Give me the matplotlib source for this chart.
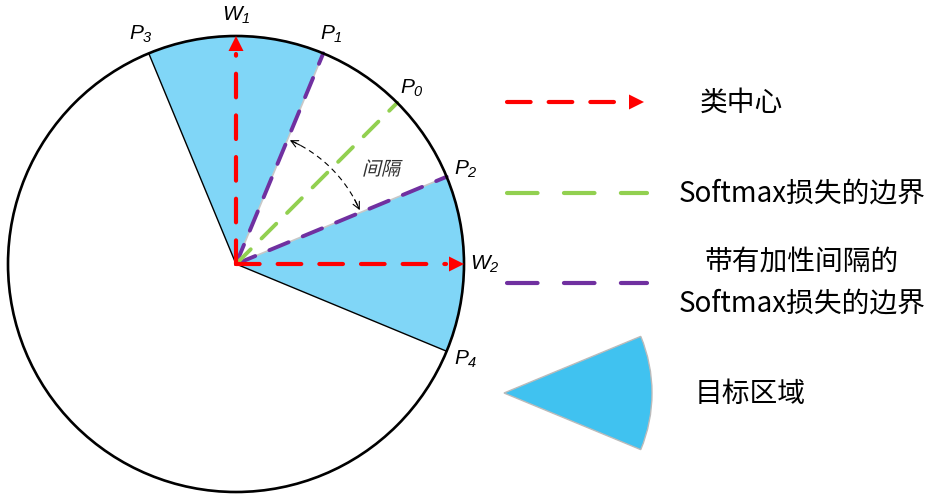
import numpy as np
import matplotlib
matplotlib.use('Agg')
import matplotlib.pyplot as plt
from matplotlib.patches import Wedge, Circle, Polygon, PathPatch
from matplotlib.textpath import TextPath
from matplotlib.font_manager import FontProperties
from matplotlib.transforms import Affine2D

plt.rcParams['font.family'] = ['Noto Sans CJK SC', 'DejaVu Sans']
plt.rcParams['mathtext.fontset'] = 'custom'
plt.rcParams['mathtext.it'] = 'Liberation Sans:italic'
plt.rcParams['mathtext.rm'] = 'Liberation Sans:italic'
plt.rcParams['lines.scale_dashes'] = False

# ---------------- data ----------------
class_center_angles = [90, 0]
class_center_labels = ['$W_1$', '$W_2$']
softmax_boundary_angle = 45
softmax_boundary_label = '$P_0$'
margin_boundary_angles = [67.5, 22.5]
margin_boundary_labels = ['$P_1$', '$P_2$']
target_regions = [(67.5, 112.5), (-22.5, 22.5)]
outer_boundary_angles = [112.5, -22.5]
outer_boundary_labels = ['$P_3$', '$P_4$']
margin_label = '间隔'
legend_labels = ['类中心', 'Softmax损失的边界', '带有加性间隔的\nSoftmax损失的边界', '目标区域']

# ---------------- style ----------------
W, H = 927, 495
RED = '#FF0000'
GREEN = '#92D050'
PURPLE = '#7030A0'
FILL = '#80D6F7'
LEG_FILL = '#40C2F0'

fig = plt.figure(figsize=(W / 100, H / 100), dpi=100)
ax = fig.add_axes([0, 0, 1, 1])
ax.set_xlim(0, W)
ax.set_ylim(0, H)
ax.set_aspect('equal')
ax.axis('off')

def img(x, y):
    return x, H - y

cx, cy = img(236, 264)
R = 228

def pol(ang, r):
    a = np.deg2rad(ang)
    return cx + r * np.cos(a), cy + r * np.sin(a)

# target regions
for t1, t2 in target_regions:
    ax.add_patch(Wedge((cx, cy), R, t1, t2, facecolor=FILL, edgecolor='none', zorder=1))

# circle outline
ax.add_patch(Circle((cx, cy), R, facecolor='none', edgecolor='black', lw=1.9, zorder=5))

# outer boundaries (thin black)
for ang in outer_boundary_angles:
    x, y = pol(ang, R)
    ax.plot([cx, x], [cy, y], color='black', lw=1.0, zorder=2)

main_dash = (0, (15, 11))

# margin boundaries (purple dashed on light gray)
for ang in margin_boundary_angles:
    x, y = pol(ang, R)
    ax.plot([cx, x], [cy, y], color='#C8C8C8', lw=1.2, zorder=2)
    ax.plot([cx, x], [cy, y], color=PURPLE, lw=2.8, linestyle=main_dash,
            dash_capstyle='round', zorder=3)

# softmax boundary (green dashed)
x, y = pol(softmax_boundary_angle, R)
ax.plot([cx, x], [cy, y], color=GREEN, lw=2.8, linestyle=main_dash,
        dash_capstyle='round', zorder=3)

# class centers (red dashed arrows)
def red_arrow(p0, ang, length, zorder=6):
    a = np.deg2rad(ang)
    d = np.array([np.cos(a), np.sin(a)])
    n = np.array([-d[1], d[0]])
    p0 = np.array(p0)
    tip = p0 + d * length
    base = tip - d * 15
    ax.plot([p0[0], base[0] - d[0] * 3], [p0[1], base[1] - d[1] * 3], color=RED, lw=3.0,
            linestyle=(0, (17, 13)), dash_capstyle='round', zorder=zorder)
    ax.add_patch(Polygon([tip, base + n * 7.5, base - n * 7.5], closed=True,
                         facecolor=RED, edgecolor='none', zorder=zorder))

for ang in class_center_angles:
    red_arrow((cx, cy), ang, R)

# margin arc (double arrow, thin dashed)
ra = 135
th = np.linspace(margin_boundary_angles[0] - 2, margin_boundary_angles[1] + 2, 60)
ax.plot(cx + ra * np.cos(np.deg2rad(th)), cy + ra * np.sin(np.deg2rad(th)),
        color='black', lw=0.8, linestyle=(0, (4, 3)), zorder=4)
for a_end, a_prev in [(margin_boundary_angles[0] - 1, margin_boundary_angles[0] - 6),
                      (margin_boundary_angles[1] + 1, margin_boundary_angles[1] + 6)]:
    ax.annotate('', xy=pol(a_end, ra), xytext=pol(a_prev, ra),
                arrowprops=dict(arrowstyle='->,head_length=0.5,head_width=0.25',
                                color='black', lw=0.8, shrinkA=0, shrinkB=0), zorder=4)

# labels on the circle
lab_r = R + 21
FS = 15
for ang, lab in zip(class_center_angles, class_center_labels):
    x, y = pol(ang, lab_r)
    ax.text(x, y, lab, fontsize=FS, ha='center', va='center', zorder=7)
x, y = pol(softmax_boundary_angle, lab_r)
ax.text(x, y, softmax_boundary_label, fontsize=FS, ha='center', va='center', zorder=7)
for ang, lab in zip(margin_boundary_angles, margin_boundary_labels):
    x, y = pol(ang, lab_r)
    ax.text(x, y, lab, fontsize=FS, ha='center', va='center', zorder=7)
for ang, lab in zip(outer_boundary_angles, outer_boundary_labels):
    x, y = pol(ang, lab_r)
    ax.text(x, y, lab, fontsize=FS, ha='center', va='center', zorder=7)

# italic (skewed) margin label
fp = FontProperties(family='Noto Sans CJK SC')
tp = TextPath((0, 0), margin_label, size=19, prop=fp)
bb = tp.get_extents()
mx, my = img(383, 168)
tr = (Affine2D().translate(-(bb.x0 + bb.x1) / 2, -(bb.y0 + bb.y1) / 2)
      .skew_deg(14, 0).translate(mx, my))
ax.add_patch(PathPatch(tr.transform_path(tp), facecolor='#303030', edgecolor='none', zorder=7))

# ---------------- legend ----------------
p0 = img(507, 102)
red_arrow(p0, 0, 137)
ax.text(*img(741, 103), legend_labels[0], fontsize=20, ha='center', va='center')
leg_dash = (0, (22, 19))
ax.plot([507, 647], [H - 193, H - 193], color=GREEN, lw=3.0, linestyle=leg_dash,
        dash_capstyle='round')
ax.text(*img(802, 194), legend_labels[1], fontsize=20, ha='center', va='center')
ax.plot([507, 647], [H - 283, H - 283], color=PURPLE, lw=3.0, linestyle=leg_dash,
        dash_capstyle='round')
ax.text(*img(802, 283), legend_labels[2], fontsize=20, ha='center', va='center',
        linespacing=1.45)
ax.add_patch(Wedge(img(504, 393), 148, target_regions[1][0], target_regions[1][1],
                   facecolor=LEG_FILL, edgecolor='#BBBBBB', lw=1.0))
ax.text(*img(750, 394), legend_labels[3], fontsize=20, ha='center', va='center')

fig.savefig('out.png', dpi=100)
